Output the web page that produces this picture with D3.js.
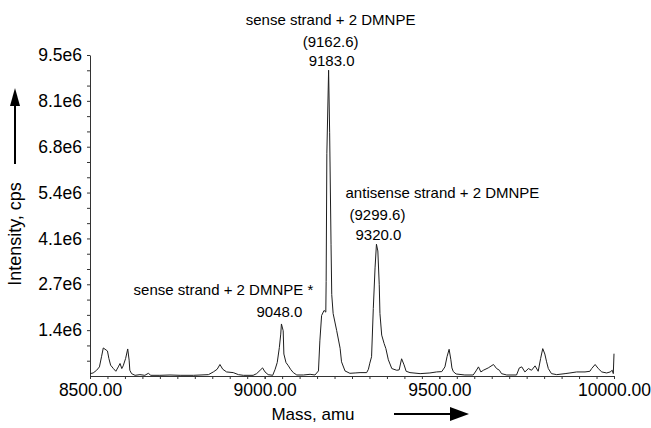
<!DOCTYPE html>
<html>
<head>
<meta charset="utf-8">
<script src="https://cdn.jsdelivr.net/npm/d3@7"></script>
<style>
  body { margin: 0; background: #fff; }
  svg { display: block; font-family: "Liberation Sans", Arial, sans-serif; }
</style>
</head>
<body>
<svg width="651" height="428"></svg>
<script>
// spectrum trace (mass in amu, intensity in millions of cps)
var mass = [8500, 8509, 8519, 8527, 8533, 8538, 8546, 8550, 8554, 8559, 8567, 8574, 8581, 8586, 8591, 8595,
            8602, 8608, 8612, 8614, 8619, 8629, 8643, 8657, 8667, 8674, 8700, 8729, 8758, 8796, 8839, 8853,
            8864, 8872, 8880, 8891, 8910, 8925, 8939, 8967, 8977, 8987, 8994, 9001, 9010, 9023, 9030, 9036,
            9042, 9046, 9048, 9053, 9055, 9061, 9068, 9074, 9082, 9092, 9111, 9130, 9144, 9154, 9158, 9163,
            9170, 9175, 9176, 9178, 9183, 9186, 9190, 9192, 9196, 9206, 9216, 9220, 9230, 9244, 9259, 9273,
            9292, 9297, 9301, 9306, 9311, 9316, 9320, 9324, 9328, 9330, 9335, 9342, 9347, 9354, 9364, 9378,
            9385, 9392, 9399, 9405, 9416, 9445, 9473, 9492, 9507, 9516, 9522, 9528, 9533, 9536, 9540, 9548,
            9573, 9597, 9605, 9612, 9619, 9626, 9640, 9655, 9664, 9672, 9678, 9693, 9721, 9729, 9736, 9745,
            9755, 9764, 9774, 9783, 9790, 9796, 9802, 9807, 9812, 9821, 9836, 9860, 9874, 9893, 9917, 9931,
            9936, 9946, 9955, 9965, 9979, 9989, 9995, 9998, 10000];
var intensity = [0.07, 0.09, 0.17, 0.27, 0.57, 0.83, 0.77, 0.74, 0.52, 0.32, 0.22, 0.14, 0.27, 0.37, 0.22, 0.30,
                 0.52, 0.80, 0.47, 0.17, 0.07, 0.02, 0.04, 0.02, 0.08, 0.02, 0.02, 0.03, 0.02, 0.02, 0.04, 0.12,
                 0.20, 0.34, 0.20, 0.12, 0.10, 0.04, 0.02, 0.02, 0.07, 0.17, 0.24, 0.12, 0.04, 0.02, 0.20, 0.40,
                 0.84, 1.24, 1.54, 1.34, 0.65, 0.40, 0.30, 0.20, 0.10, 0.03, 0.03, 0.05, 0.03, 0.15, 1.04, 1.79,
                 1.94, 1.89, 2.80, 6.58, 9.05, 7.20, 3.90, 2.41, 1.85, 1.35, 0.82, 0.42, 0.15, 0.08, 0.09, 0.10,
                 0.10, 0.20, 0.38, 0.57, 2.00, 3.20, 3.90, 3.70, 2.70, 1.85, 1.21, 0.96, 0.81, 0.48, 0.22, 0.17,
                 0.18, 0.51, 0.33, 0.14, 0.10, 0.07, 0.09, 0.12, 0.13, 0.27, 0.57, 0.79, 0.48, 0.24, 0.13, 0.06,
                 0.03, 0.03, 0.15, 0.27, 0.12, 0.17, 0.24, 0.34, 0.22, 0.17, 0.07, 0.03, 0.03, 0.24, 0.27, 0.12,
                 0.22, 0.17, 0.30, 0.14, 0.52, 0.81, 0.65, 0.42, 0.22, 0.07, 0.04, 0.07, 0.09, 0.12, 0.12, 0.14,
                 0.22, 0.34, 0.22, 0.12, 0.09, 0.12, 0.17, 0.07, 0.66];

var xTicks = [8500, 9000, 9500, 10000];
var xTickLabels = ["8500.00", "9000.00", "9500.00", "10000.00"];
var yTicks = [1.357, 2.714, 4.071, 5.429, 6.786, 8.143, 9.5];
var yTickLabels = ["1.4e6", "2.7e6", "4.1e6", "5.4e6", "6.8e6", "8.1e6", "9.5e6"];

var peakMass = [9183, 9320, 9048];
var peakText = [["sense strand + 2 DMNPE", "(9162.6)", "9183.0"],
                ["antisense strand + 2 DMNPE", "(9299.6)", "9320.0"],
                ["sense strand + 2 DMNPE *", "9048.0"]];

var svg = d3.select("svg");

var x = d3.scaleLinear().domain([8500, 10000]).range([90, 614]);
var y = d3.scaleLinear().domain([0, 9.5]).range([376, 55]);

// x axis: minor ticks every 50 amu, labels every 500
var xMinor = d3.range(8550, 10000, 50);
svg.append("g")
  .attr("transform", "translate(0,376)")
  .call(d3.axisBottom(x).tickValues(xMinor).tickSize(3).tickSizeOuter(0).tickFormat(""))
  .call(function (g) { g.select(".domain").remove(); });

var xAxis = svg.append("g")
  .attr("transform", "translate(0,376)")
  .call(d3.axisBottom(x).tickValues(xTicks).tickSize(3).tickSizeOuter(0).tickPadding(5)
        .tickFormat(function (d, i) { return xTickLabels[i]; }));
xAxis.selectAll("text").style("font-size", "17.5px").attr("fill", "#000");

// y axis: two minor ticks between labels
var yMinor = [];
for (var i = 0; i < yTicks.length; i++) {
  var lo = i === 0 ? 0 : yTicks[i - 1];
  yMinor.push(lo + (yTicks[i] - lo) / 3, lo + 2 * (yTicks[i] - lo) / 3);
}
svg.append("g")
  .attr("transform", "translate(90,0)")
  .call(d3.axisLeft(y).tickValues(yMinor).tickSize(3).tickSizeOuter(0).tickFormat(""))
  .call(function (g) { g.select(".domain").remove(); });

var yAxis = svg.append("g")
  .attr("transform", "translate(90,0)")
  .call(d3.axisLeft(y).tickValues(yTicks).tickSize(3).tickSizeOuter(0).tickPadding(5)
        .tickFormat(function (d, i) { return yTickLabels[i]; }));
yAxis.selectAll("text").style("font-size", "17.5px").attr("fill", "#000");

svg.selectAll(".domain, .tick line").attr("stroke", "#333");

// the spectrum
var pts = mass.map(function (m, i) { return [m, intensity[i]]; });
svg.append("path")
  .datum(pts)
  .attr("fill", "none")
  .attr("stroke", "#1e1e1e")
  .attr("stroke-width", 1)
  .attr("d", d3.line()
    .x(function (d) { return x(d[0]); })
    .y(function (d) { return y(d[1]); }));

// peak annotations
function label(px, py, txt) {
  svg.append("text")
    .attr("x", px).attr("y", py)
    .attr("text-anchor", "middle")
    .style("font-size", "15px")
    .text(txt);
}
var xa = x(peakMass[0]);
label(xa + 2, 25, peakText[0][0]);
label(xa + 2, 47, peakText[0][1]);
label(xa + 3, 66, peakText[0][2]);

var xb = x(peakMass[1]);
label(xb + 66, 198, peakText[1][0]);
label(xb + 1, 220, peakText[1][1]);
label(xb + 2, 240, peakText[1][2]);

var xc = x(peakMass[2]);
label(xc - 58, 295, peakText[2][0]);
label(xc - 2, 317, peakText[2][1]);

// axis titles with arrows
svg.append("text")
  .attr("transform", "translate(21,234) rotate(-90)")
  .attr("text-anchor", "middle")
  .style("font-size", "18px")
  .text("Intensity, cps");
svg.append("line")
  .attr("x1", 15).attr("x2", 15).attr("y1", 164).attr("y2", 104)
  .attr("stroke", "#000").attr("stroke-width", 2);
svg.append("path")
  .attr("d", "M15,88 L10,106 L20,106 Z")
  .attr("fill", "#000");

svg.append("text")
  .attr("x", 313).attr("y", 420)
  .attr("text-anchor", "middle")
  .style("font-size", "17px")
  .text("Mass, amu");
svg.append("line")
  .attr("x1", 394).attr("x2", 452).attr("y1", 414).attr("y2", 414)
  .attr("stroke", "#000").attr("stroke-width", 2);
svg.append("path")
  .attr("d", "M469,414 L450,407 L450,421 Z")
  .attr("fill", "#000");
</script>
</body>
</html>
